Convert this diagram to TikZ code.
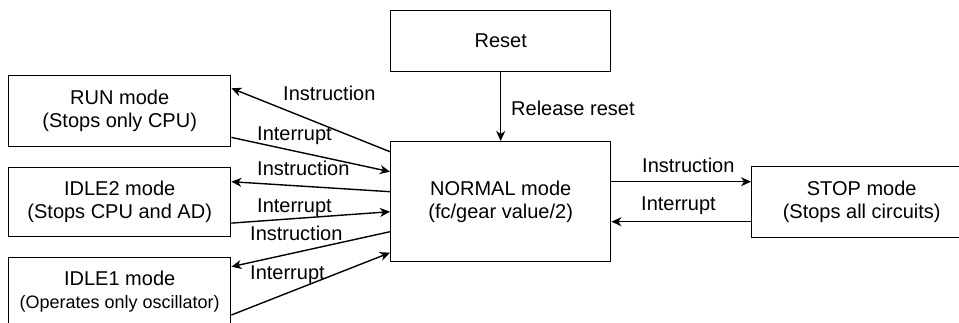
\documentclass[tikz,border=0pt]{standalone}
\usepackage{fontspec}
\setmainfont{Liberation Sans}
\usetikzlibrary{arrows.meta}
\begin{document}
\begin{tikzpicture}[x=1pt,y=-1pt,
  box/.style={draw,line width=1.4pt,rectangle,inner sep=0pt,anchor=north west,align=center,
    font=\fontsize{20}{23}\selectfont},
  lbl/.style={inner sep=0pt,anchor=base west,font=\fontsize{20}{23}\selectfont},
  arr/.style={line width=1.4pt,-{Stealth[length=10pt,width=9pt,inset=3pt]}}]
\clip (0,0) rectangle (959,322);
\node[box,minimum width=220pt,minimum height=61pt] (reset) at (390,10) {Reset};
\node[box,minimum width=220pt,minimum height=120pt] (normal) at (390,141) {NORMAL mode\\(fc/gear value/2)};
\node[box,minimum width=220pt,minimum height=71pt] (stop) at (751,166) {STOP mode\\(Stops all circuits)};
\node[box,minimum width=222pt,minimum height=71pt] (run) at (8,75) {RUN mode\\(Stops only CPU)};
\node[box,minimum width=222pt,minimum height=69pt] (idletwo) at (8,167) {IDLE2 mode\\(Stops CPU and AD)};
\node[box,minimum width=222pt,minimum height=68pt] (idleone) at (8,257) {IDLE1 mode\\{\fontsize{18}{23}\selectfont (Operates only oscillator)}};
% reset
\draw[arr] (reset) -- (normal);
\node[lbl] (lrr) at (511,115) {Release reset};
% right
\draw[arr] ([yshift=-40.7pt]normal.north east) -- ([yshift=-15.7pt]stop.north west);
\draw[arr] ([yshift=-55.7pt]stop.north west) -- ([yshift=-80.7pt]normal.north east);
\node[lbl] (lri) at (642,172) {Instruction};
\node[lbl] (lrt) at (641,210) {Interrupt};
% left
\draw[arr] ([yshift=-10.7pt]normal.north west) -- ([yshift=-13.3pt]run.north east);
\draw[arr] ([yshift=10pt]run.south east) -- ([yshift=-30.7pt]normal.north west);
\draw[arr] ([yshift=-50.7pt]normal.north west) -- ([yshift=-14.7pt]idletwo.north east);
\draw[arr] ([yshift=14.3pt]idletwo.south east) -- ([yshift=-70.7pt]normal.north west);
\draw[arr] ([yshift=-90.7pt]normal.north west) -- ([yshift=-9.7pt]idleone.north east);
\draw[arr] ([yshift=-58pt]idleone.north east) -- ([yshift=-111.7pt]normal.north west);
\node[lbl] (l1) at (283,100) {Instruction};
\node[lbl] (l2) at (257,140) {Interrupt};
\node[lbl] (l3) at (257,175) {Instruction};
\node[lbl] (l4) at (257,212) {Interrupt};
\node[lbl] (l5) at (250,240) {Instruction};
\node[lbl] (l6) at (250,279) {Interrupt};
\end{tikzpicture}
\end{document}
